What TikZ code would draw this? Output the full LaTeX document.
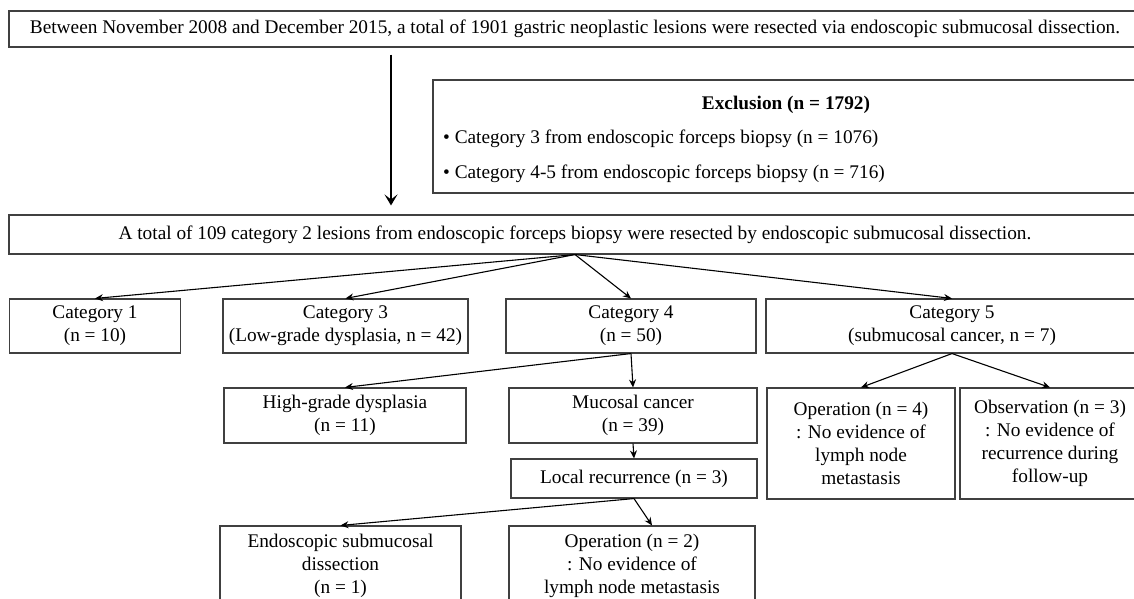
\documentclass[tikz,border=0pt]{standalone}
\usepackage{fontspec}
\setmainfont{Liberation Serif}
\usepackage{tikz}
\usetikzlibrary{arrows.meta}
\tikzstyle{fBox} = [rectangle, draw=black!75, line width=1.1pt, text centered, align=center, inner sep=0pt, font=\fontsize{19.3}{23}\selectfont]
\tikzstyle{fText} = [inner sep=0pt, font=\fontsize{19.3}{23}\selectfont]
\tikzstyle{fArrow} = [line width=1.1pt,-{Stealth[length=8pt,width=7pt]}]
\tikzstyle{fMainArrow} = [line width=2.6pt,-{Stealth[length=11pt,width=13pt,inset=5pt]}]

\begin{document}
\begin{tikzpicture}[x=1pt, y=-1pt]
    \useasboundingbox (0,0) rectangle (1134,599);
    \clip (0,0) rectangle (1134,599);

    \node (start) [fBox, minimum width=1132, minimum height=36] at (575,29) {Between November 2008 and December 2015, a total of 1901 gastric neoplastic lesions were resected via endoscopic submucosal dissection.};
    \node (excl) [fBox, minimum width=706, minimum height=113] at (786,136.5) {};
    \node (exTitle) [fText] at (786,105) {\textbf{Exclusion (n = 1792)}};
    \node (exCat3) [fText, anchor=west] at (443,139) {• Category 3 from endoscopic forceps biopsy (n = 1076)};
    \node (exCat45) [fText, anchor=west] at (443,174) {• Category 4-5 from endoscopic forceps biopsy (n = 716)};
    \node (total) [fBox, minimum width=1132, minimum height=39] at (575,234.5) {A total of 109 category 2 lesions from endoscopic forceps biopsy were resected by endoscopic submucosal dissection.};

    \node (cat1) [fBox, minimum width=171, minimum height=54] at (95,326) {Category 1\\(n = 10)};
    \node (cat3) [fBox, minimum width=245, minimum height=54] at (345.5,326) {Category 3\\(Low-grade dysplasia, n = 42)};
    \node (cat4) [fBox, minimum width=250, minimum height=54] at (631,326) {Category 4\\(n = 50)};
    \node (cat5) [fBox, minimum width=372, minimum height=54] at (952,326) {Category 5\\(submucosal cancer, n = 7)};

    \node (highGrade) [fBox, minimum width=242, minimum height=55] at (345,415.5) {High-grade dysplasia\\(n = 11)};
    \node (mucosal) [fBox, minimum width=248, minimum height=55] at (633,415.5) {Mucosal cancer\\(n = 39)};
    \node (localRec) [fBox, minimum width=246, minimum height=39] at (634,478.5) {Local recurrence (n = 3)};
    \node (operation4) [fBox, minimum width=188, minimum height=111] at (861,443.5) {Operation (n = 4)\\: No evidence of\\lymph node\\metastasis};
    \node (observation) [fBox, minimum width=180, minimum height=111] at (1050,443.5) {Observation (n = 3)\\: No evidence of\\recurrence during\\follow-up};

    \node (esd) [fBox, minimum width=241, minimum height=79] at (340.5,565.5) {Endoscopic submucosal\\dissection\\(n = 1)};
    \node (operation2) [fBox, minimum width=246, minimum height=79] at (632,565.5) {Operation (n = 2)\\: No evidence of\\lymph node metastasis};

    \coordinate (mainX) at (391,0);
    \draw [fMainArrow, shorten <=7pt, shorten >=9pt] (start.south -| mainX) -- (total.north -| mainX);

    \draw [fArrow] (total.south) -- (cat1.north);
    \draw [fArrow] (total.south) -- (cat3.north);
    \draw [fArrow] (total.south) -- (cat4.north);
    \draw [fArrow] (total.south) -- (cat5.north);
    \draw [fArrow] (cat4.south) -- (highGrade.north);
    \draw [fArrow] (cat4.south) -- (mucosal.north);
    \draw [fArrow] (mucosal.south) -- (localRec.north);
    \draw [fArrow] (localRec.south) -- (esd.north);
    \draw [fArrow] (localRec.south) -- ([xshift=20pt]operation2.north);
    \draw [fArrow] (cat5.south) -- (operation4.north);
    \draw [fArrow] (cat5.south) -- (observation.north);
\end{tikzpicture}
\end{document}
